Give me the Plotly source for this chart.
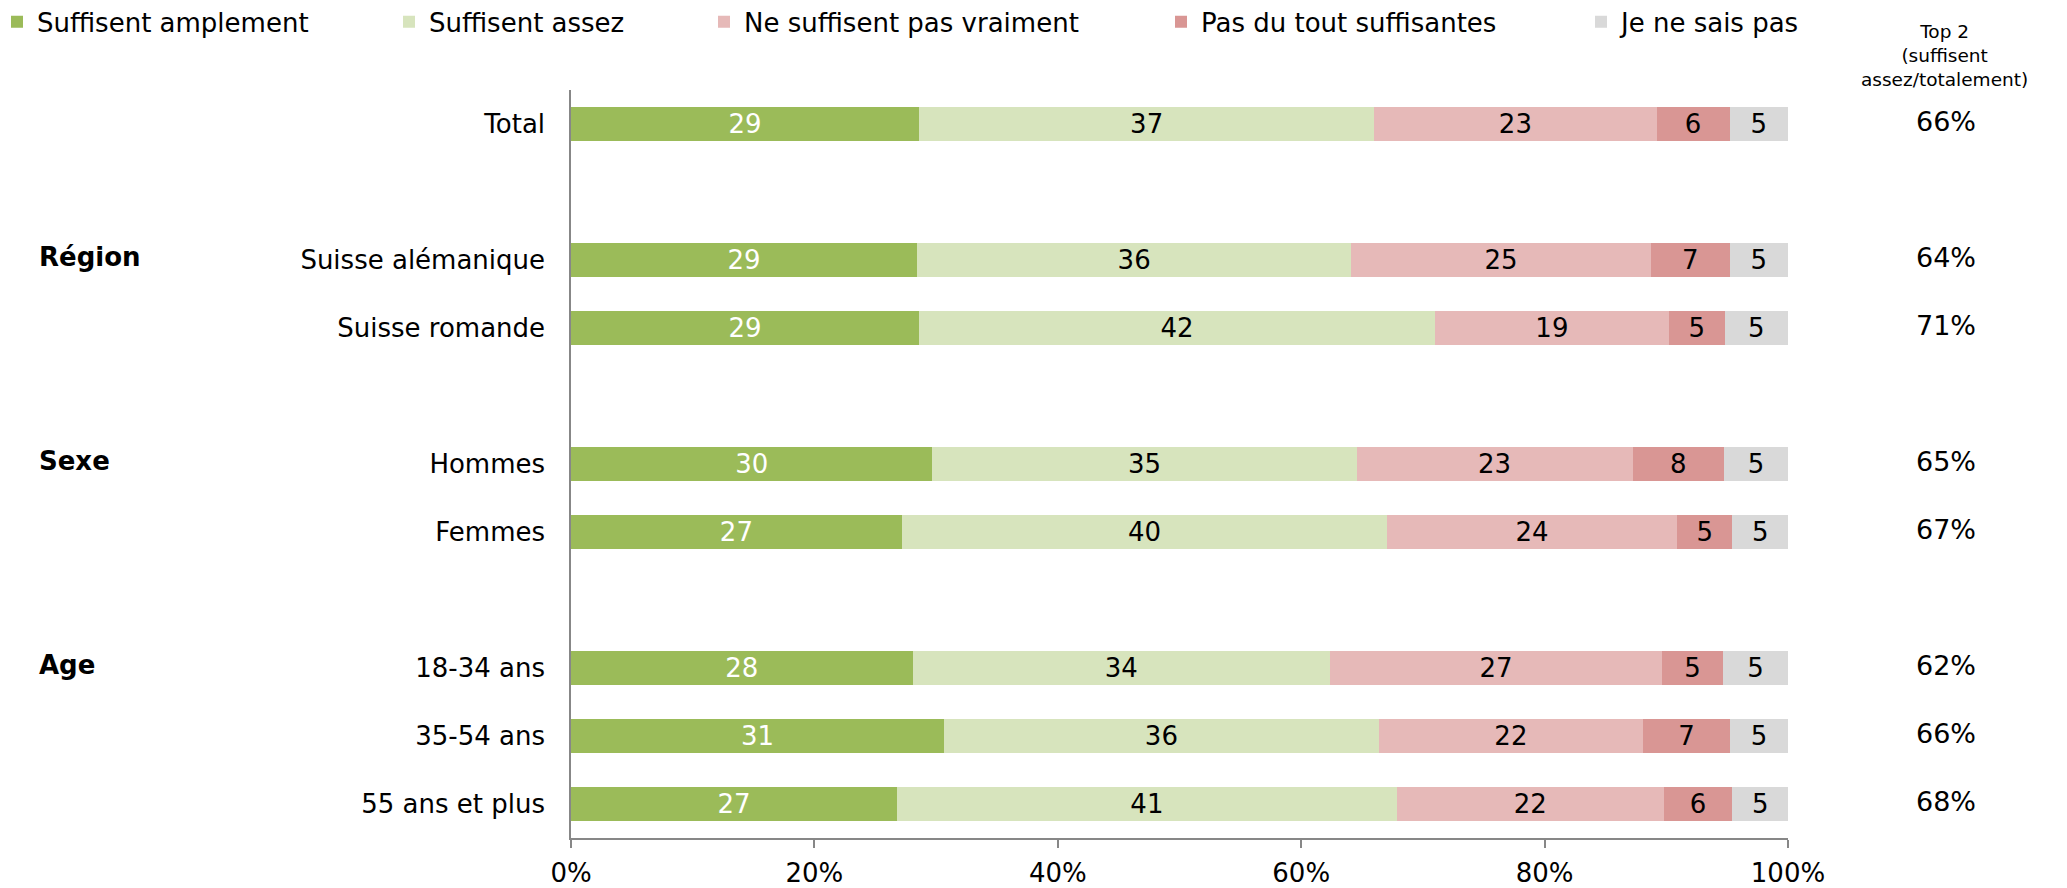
import plotly.graph_objects as go

# rows of the chart (top to bottom); blank strings are the spacer rows
categories = ["Total", "Suisse alémanique", "Suisse romande", "Hommes", "Femmes",
              "18-34 ans", "35-54 ans", "55 ans et plus"]
row_order = ["Total", " ", "Suisse alémanique", "Suisse romande", "  ",
             "Hommes", "Femmes", "   ", "18-34 ans", "35-54 ans", "55 ans et plus"]
group_labels = ["Région", "Sexe", "Age"]
group_rows = ["Suisse alémanique", "Hommes", "18-34 ans"]

# answers in % (bars are normalised to 100%)
amplement = [28.6, 29.0, 28.6, 30.0, 27.4, 27.9, 30.9, 27.0]
assez = [37.4, 36.4, 42.4, 35.2, 40.2, 34.1, 36.0, 41.4]
pas_vraiment = [23.2, 25.1, 19.2, 22.9, 24.0, 27.1, 21.9, 22.1]
pas_du_tout = [6.0, 6.6, 4.6, 7.6, 4.6, 5.0, 7.2, 5.7]
ne_sais_pas = [4.8, 4.9, 5.2, 5.3, 4.6, 5.3, 4.8, 4.6]
top2 = [66, 64, 71, 65, 67, 62, 66, 68]

x_ticks = [0, 20, 40, 60, 80, 100]
x_ticklabels = ["0%", "20%", "40%", "60%", "80%", "100%"]

series = [
    ("Suffisent amplement", amplement, "#9BBB59", "white"),
    ("Suffisent assez", assez, "#D7E4BD", "black"),
    ("Ne suffisent pas vraiment", pas_vraiment, "#E6B9B8", "black"),
    ("Pas du tout suffisantes", pas_du_tout, "#D99694", "black"),
    ("Je ne sais pas", ne_sais_pas, "#D9D9D9", "black"),
]

FONT = "DejaVu Sans"
# left edge (px) of each legend entry
legend_px = [-3, 389, 704, 1161, 1581]
plot_left, plot_right = 571, 1788
plot_w = plot_right - plot_left

fig = go.Figure()
legends = {}
for i, (name, vals, color, tcolor) in enumerate(series):
    key = "legend" if i == 0 else f"legend{i + 1}"
    fig.add_trace(go.Bar(
        name=name,
        y=categories,
        x=vals,
        orientation="h",
        width=0.5,
        marker=dict(color=color, line=dict(width=0)),
        text=vals,
        texttemplate="%{text:.0f}",
        textposition="inside",
        insidetextanchor="middle",
        textangle=0,
        constraintext="none",
        textfont=dict(family=FONT, size=26, color=tcolor),
        legend=key,
    ))
    legends[key] = dict(
        x=(legend_px[i] - plot_left) / plot_w, xanchor="left",
        y=1.091, yanchor="middle",
        orientation="h",
        font=dict(family=FONT, size=26, color="black"),
        bgcolor="rgba(0,0,0,0)",
        borderwidth=0,
    )

annotations = []
for cat, val in zip(categories, top2):
    annotations.append(dict(
        x=(1946 - plot_left) / plot_w, xref="paper", y=cat, yref="y",
        text=f"{val}%", showarrow=False, xanchor="center", yshift=3,
        font=dict(family=FONT, size=27, color="black"),
    ))
for lab, row in zip(group_labels, group_rows):
    annotations.append(dict(
        x=(37 - plot_left) / plot_w, xref="paper", y=row, yref="y",
        text=f"<b>{lab}</b>", showarrow=False, xanchor="left", yshift=3,
        font=dict(family=FONT, size=26, color="black"),
    ))
annotations.append(dict(
    x=(1944 - plot_left) / plot_w, xref="paper", y=(838 - 19) / 748, yref="paper",
    text="Top 2<br>(suffisent<br>assez/totalement)", showarrow=False,
    xanchor="center", yanchor="top", align="center",
    font=dict(family=FONT, size=18.5, color="black"),
))

fig.update_layout(
    barmode="stack",
    barnorm="percent",
    width=2067,
    height=888,
    margin=dict(l=plot_left, r=2067 - plot_right, t=90, b=50, autoexpand=False),
    plot_bgcolor="white",
    paper_bgcolor="white",
    font=dict(family=FONT, size=26, color="black"),
    showlegend=True,
    annotations=annotations,
    xaxis=dict(
        range=[0, 100],
        tickmode="array",
        tickvals=x_ticks,
        ticktext=x_ticklabels,
        showgrid=False,
        zeroline=False,
        showline=True,
        linecolor="#878787",
        linewidth=1.5,
        ticks="outside",
        ticklen=8,
        tickcolor="#878787",
        tickwidth=1.5,
        ticklabelstandoff=3,
        automargin=False,
        tickfont=dict(family=FONT, size=26, color="black"),
    ),
    yaxis=dict(
        type="category",
        categoryorder="array",
        categoryarray=row_order,
        range=[len(row_order) - 0.5, -0.5],
        showgrid=False,
        zeroline=False,
        showline=True,
        linecolor="#878787",
        linewidth=1.5,
        ticks="",
        ticklabelstandoff=19,
        automargin=False,
        tickfont=dict(family=FONT, size=26, color="black"),
    ),
    **legends,
)

fig.write_html(
    "out.html",
    config={"displayModeBar": False},
    post_script="document.body.style.margin='0';document.body.style.overflow='hidden';",
)
